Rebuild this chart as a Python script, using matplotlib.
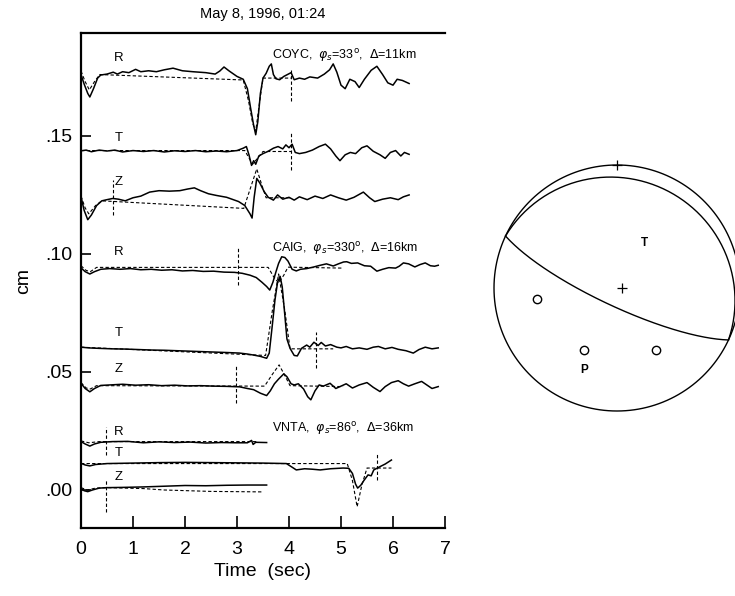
import numpy as np
import matplotlib
matplotlib.use("Agg")
import matplotlib.pyplot as plt

plt.rcParams["font.family"] = ["Liberation Sans", "DejaVu Sans"]
plt.rcParams["mathtext.fontset"] = "dejavusans"

TITLE = "May 8, 1996, 01:24"
X_TICKS = [0, 1, 2, 3, 4, 5, 6, 7]
Y_TICKS = [0.00, 0.05, 0.10, 0.15]
Y_TICK_LABELS = [".00", ".05", ".10", ".15"]

# ---- COYC ----
COYC_R_OBS = [(0.00, 0.1760), (0.06, 0.1720), (0.13, 0.1680), (0.17, 0.1665), (0.24, 0.1700),
              (0.32, 0.1745), (0.38, 0.1758), (0.50, 0.1762), (0.62, 0.1770), (0.70, 0.1762),
              (0.80, 0.1772), (0.92, 0.1768), (1.05, 0.1782), (1.15, 0.1772), (1.30, 0.1776),
              (1.45, 0.1772), (1.60, 0.1780), (1.77, 0.1787), (1.95, 0.1776), (2.15, 0.1772),
              (2.40, 0.1768), (2.58, 0.1762), (2.67, 0.1775), (2.75, 0.1792), (2.85, 0.1775),
              (3.00, 0.1752), (3.12, 0.1740), (3.20, 0.1700), (3.26, 0.1620), (3.32, 0.1545),
              (3.36, 0.1505), (3.40, 0.1560), (3.45, 0.1680), (3.50, 0.1745), (3.56, 0.1765),
              (3.62, 0.1795), (3.66, 0.1805), (3.70, 0.1760), (3.75, 0.1742), (3.82, 0.1738),
              (3.90, 0.1752), (3.97, 0.1760), (4.04, 0.1768), (4.10, 0.1738), (4.20, 0.1745),
              (4.30, 0.1740), (4.40, 0.1750), (4.55, 0.1745), (4.68, 0.1762), (4.78, 0.1780),
              (4.85, 0.1805), (4.92, 0.1770), (5.00, 0.1715), (5.08, 0.1700), (5.17, 0.1740),
              (5.27, 0.1730), (5.35, 0.1705), (5.45, 0.1740), (5.58, 0.1778), (5.69, 0.1795),
              (5.80, 0.1760), (5.90, 0.1725), (6.00, 0.1715), (6.08, 0.1740), (6.18, 0.1735),
              (6.31, 0.1722)]
COYC_R_SYN = [(0.00, 0.1775), (0.08, 0.1730), (0.16, 0.1695), (0.26, 0.1730), (0.36, 0.1760),
              (3.12, 0.1737), (3.22, 0.1650), (3.30, 0.1555), (3.36, 0.1520), (3.42, 0.1620),
              (3.50, 0.1745), (4.05, 0.1745)]

COYC_T_OBS = [(0.00, 0.1437), (0.10, 0.1440), (0.20, 0.1433), (0.35, 0.1440), (0.50, 0.1436),
              (0.65, 0.1440), (0.80, 0.1432), (1.00, 0.1438), (1.20, 0.1434), (1.40, 0.1438),
              (1.60, 0.1432), (1.80, 0.1437), (2.00, 0.1434), (2.20, 0.1438), (2.40, 0.1433),
              (2.60, 0.1436), (2.80, 0.1433), (3.00, 0.1438), (3.12, 0.1448), (3.18, 0.1455),
              (3.23, 0.1420), (3.28, 0.1375), (3.32, 0.1395), (3.36, 0.1380), (3.42, 0.1415),
              (3.50, 0.1425), (3.60, 0.1435), (3.70, 0.1448), (3.79, 0.1455), (3.88, 0.1445),
              (3.94, 0.1462), (4.00, 0.1450), (4.06, 0.1465), (4.12, 0.1430), (4.20, 0.1425),
              (4.32, 0.1430), (4.45, 0.1440), (4.58, 0.1455), (4.70, 0.1465), (4.80, 0.1445),
              (4.90, 0.1415), (4.98, 0.1395), (5.08, 0.1420), (5.18, 0.1430), (5.28, 0.1425),
              (5.40, 0.1450), (5.50, 0.1458), (5.62, 0.1435), (5.75, 0.1420), (5.85, 0.1405),
              (5.95, 0.1430), (6.05, 0.1438), (6.15, 0.1415), (6.22, 0.1430), (6.31, 0.1422)]
COYC_T_SYN = [(0.00, 0.1438), (3.15, 0.1438), (3.30, 0.1380), (3.50, 0.1434), (4.05, 0.1434)]

COYC_Z_OBS = [(0.00, 0.1243), (0.06, 0.1185), (0.13, 0.1145), (0.20, 0.1165), (0.30, 0.1205),
              (0.40, 0.1225), (0.50, 0.1230), (0.61, 0.1235), (0.72, 0.1232), (0.85, 0.1225),
              (1.00, 0.1238), (1.15, 0.1245), (1.32, 0.1262), (1.50, 0.1268), (1.70, 0.1266),
              (1.90, 0.1268), (2.05, 0.1275), (2.18, 0.1280), (2.30, 0.1268), (2.45, 0.1255),
              (2.60, 0.1248), (2.80, 0.1240), (3.03, 0.1222), (3.15, 0.1205), (3.25, 0.1170),
              (3.29, 0.1152), (3.33, 0.1240), (3.38, 0.1320), (3.44, 0.1300), (3.52, 0.1265),
              (3.60, 0.1240), (3.70, 0.1228), (3.78, 0.1250), (3.88, 0.1232), (4.00, 0.1240),
              (4.10, 0.1228), (4.20, 0.1242), (4.35, 0.1230), (4.50, 0.1245), (4.65, 0.1235),
              (4.80, 0.1250), (4.95, 0.1238), (5.10, 0.1228), (5.25, 0.1240), (5.43, 0.1262),
              (5.55, 0.1238), (5.65, 0.1222), (5.80, 0.1232), (5.95, 0.1238), (6.10, 0.1230),
              (6.20, 0.1242), (6.31, 0.1250)]
COYC_Z_SYN = [(0.00, 0.1245), (0.08, 0.1195), (0.15, 0.1170), (0.28, 0.1205), (0.40, 0.1225),
              (3.13, 0.1193), (3.26, 0.1280), (3.38, 0.1360), (3.48, 0.1290), (3.56, 0.1238),
              (4.05, 0.1238)]

# ---- CAIG ----
CAIG_R_OBS = [(0.00, 0.0941), (0.08, 0.0925), (0.17, 0.0915), (0.26, 0.0925), (0.38, 0.0935),
              (0.55, 0.0938), (0.75, 0.0935), (0.95, 0.0938), (1.15, 0.0933), (1.35, 0.0935),
              (1.55, 0.0931), (1.75, 0.0933), (1.95, 0.0928), (2.15, 0.0930), (2.35, 0.0926),
              (2.55, 0.0927), (2.75, 0.0923), (2.95, 0.0922), (3.10, 0.0918), (3.25, 0.0910),
              (3.37, 0.0900), (3.48, 0.0880), (3.57, 0.0862), (3.63, 0.0847), (3.69, 0.0880),
              (3.75, 0.0925), (3.80, 0.0960), (3.86, 0.0988), (3.92, 0.0985), (3.98, 0.0970),
              (4.06, 0.0935), (4.14, 0.0928), (4.22, 0.0935), (4.34, 0.0938), (4.48, 0.0945),
              (4.60, 0.0952), (4.72, 0.0958), (4.85, 0.0949), (4.95, 0.0958), (5.05, 0.0966),
              (5.11, 0.0967), (5.20, 0.0960), (5.32, 0.0962), (5.45, 0.0950), (5.57, 0.0948),
              (5.69, 0.0927), (5.80, 0.0935), (5.92, 0.0942), (6.05, 0.0940), (6.12, 0.0948),
              (6.20, 0.0962), (6.30, 0.0958), (6.42, 0.0945), (6.52, 0.0955), (6.62, 0.0962),
              (6.72, 0.0950), (6.80, 0.0948), (6.87, 0.0952)]
CAIG_R_SYN = [(0.00, 0.0950), (0.10, 0.0930), (0.18, 0.0925), (0.30, 0.0943), (3.60, 0.0943),
              (3.70, 0.0905), (3.80, 0.0877), (3.90, 0.0910), (3.98, 0.0944), (5.04, 0.0940)]

CAIG_T_OBS = [(0.00, 0.0605), (0.15, 0.0602), (0.35, 0.0600), (0.60, 0.0598), (0.85, 0.0597),
              (1.10, 0.0595), (1.35, 0.0593), (1.60, 0.0592), (1.85, 0.0590), (2.10, 0.0588),
              (2.35, 0.0586), (2.60, 0.0584), (2.85, 0.0582), (3.05, 0.0580), (3.20, 0.0576),
              (3.31, 0.0572), (3.45, 0.0566), (3.57, 0.0558), (3.62, 0.0580), (3.68, 0.0700),
              (3.73, 0.0805), (3.78, 0.0880), (3.83, 0.0905), (3.87, 0.0860), (3.92, 0.0740),
              (3.96, 0.0640), (4.02, 0.0600), (4.10, 0.0570), (4.16, 0.0568), (4.24, 0.0600),
              (4.34, 0.0614), (4.40, 0.0605), (4.48, 0.0626), (4.56, 0.0612), (4.62, 0.0625),
              (4.70, 0.0610), (4.80, 0.0616), (4.92, 0.0605), (5.00, 0.0602), (5.10, 0.0608),
              (5.22, 0.0598), (5.35, 0.0602), (5.50, 0.0596), (5.62, 0.0605), (5.72, 0.0608),
              (5.85, 0.0598), (5.98, 0.0604), (6.10, 0.0596), (6.25, 0.0590), (6.39, 0.0580),
              (6.50, 0.0595), (6.62, 0.0605), (6.75, 0.0598), (6.87, 0.0602)]
CAIG_T_SYN = [(0.00, 0.0605), (3.55, 0.0570), (3.68, 0.0760), (3.80, 0.0915), (3.92, 0.0760),
              (4.02, 0.0598), (4.85, 0.0598)]

CAIG_Z_OBS = [(0.00, 0.0452), (0.08, 0.0430), (0.17, 0.0416), (0.26, 0.0430), (0.38, 0.0443),
              (0.55, 0.0445), (0.80, 0.0448), (1.05, 0.0444), (1.30, 0.0446), (1.55, 0.0442),
              (1.80, 0.0444), (2.05, 0.0441), (2.30, 0.0442), (2.55, 0.0440), (2.80, 0.0439),
              (3.05, 0.0437), (3.20, 0.0430), (3.32, 0.0425), (3.45, 0.0410), (3.57, 0.0400),
              (3.64, 0.0420), (3.72, 0.0450), (3.80, 0.0470), (3.90, 0.0492), (3.96, 0.0480),
              (4.04, 0.0450), (4.10, 0.0445), (4.18, 0.0450), (4.28, 0.0428), (4.36, 0.0395),
              (4.42, 0.0382), (4.50, 0.0420), (4.58, 0.0445), (4.66, 0.0440), (4.79, 0.0452),
              (4.90, 0.0430), (5.00, 0.0440), (5.10, 0.0450), (5.22, 0.0432), (5.35, 0.0445),
              (5.50, 0.0455), (5.62, 0.0435), (5.75, 0.0417), (5.85, 0.0438), (5.97, 0.0455),
              (6.10, 0.0463), (6.20, 0.0450), (6.30, 0.0440), (6.42, 0.0450), (6.55, 0.0460),
              (6.65, 0.0445), (6.75, 0.0430), (6.87, 0.0438)]
CAIG_Z_SYN = [(0.00, 0.0455), (0.10, 0.0432), (0.18, 0.0428), (0.30, 0.0442), (3.53, 0.0440),
              (3.68, 0.0490), (3.81, 0.0530), (3.92, 0.0485), (4.02, 0.0442), (5.04, 0.0438)]

# ---- VNTA ----
VNTA_R_OBS = [(0.00, 0.0205), (0.08, 0.0195), (0.17, 0.0186), (0.26, 0.0195), (0.38, 0.0202),
              (0.60, 0.0205), (0.90, 0.0206), (1.20, 0.0200), (1.50, 0.0204), (1.80, 0.0201),
              (2.10, 0.0203), (2.40, 0.0199), (2.70, 0.0201), (3.00, 0.0200), (3.20, 0.0200),
              (3.28, 0.0210), (3.31, 0.0193), (3.36, 0.0202), (3.57, 0.0201)]
VNTA_R_SYN = [(0.00, 0.0208), (0.15, 0.0200), (0.35, 0.0205), (3.40, 0.0205)]

VNTA_T_OBS = [(0.00, 0.0113), (0.08, 0.0106), (0.17, 0.0102), (0.28, 0.0108), (0.50, 0.0112),
              (1.00, 0.0114), (1.50, 0.0116), (2.00, 0.0117), (2.50, 0.0116), (3.00, 0.0115),
              (3.50, 0.0114), (3.95, 0.0112), (4.05, 0.0098), (4.14, 0.0085), (4.30, 0.0090),
              (4.45, 0.0088), (4.60, 0.0085), (4.80, 0.0090), (5.04, 0.0093), (5.15, 0.0092),
              (5.22, 0.0070), (5.28, 0.0025), (5.32, 0.0008), (5.38, 0.0020), (5.44, 0.0040),
              (5.52, 0.0064), (5.58, 0.0060), (5.63, 0.0085), (5.75, 0.0099), (5.85, 0.0110),
              (5.97, 0.0127)]
VNTA_T_SYN = [(0.00, 0.0112), (5.12, 0.0112), (5.22, 0.0040), (5.31, -0.0071), (5.40, 0.0020),
              (5.50, 0.0093), (5.97, 0.0093)]

VNTA_Z_OBS = [(0.00, 0.0007), (0.06, -0.0003), (0.13, -0.0007), (0.22, 0.0000), (0.35, 0.0008),
              (0.50, 0.0010), (0.80, 0.0011), (1.20, 0.0013), (1.60, 0.0016), (2.00, 0.0019),
              (2.40, 0.0018), (2.80, 0.0020), (3.20, 0.0021), (3.57, 0.0021)]
VNTA_Z_SYN = [(0.00, 0.0010), (0.12, 0.0000), (0.28, 0.0008), (0.50, 0.0010), (1.20, 0.0006),
              (1.60, 0.0000), (2.50, -0.0006), (3.47, -0.0008)]

TRACES = [
    (COYC_R_OBS, COYC_R_SYN), (COYC_T_OBS, COYC_T_SYN), (COYC_Z_OBS, COYC_Z_SYN),
    (CAIG_R_OBS, CAIG_R_SYN), (CAIG_T_OBS, CAIG_T_SYN), (CAIG_Z_OBS, CAIG_Z_SYN),
    (VNTA_R_OBS, VNTA_R_SYN), (VNTA_T_OBS, VNTA_T_SYN), (VNTA_Z_OBS, VNTA_Z_SYN),
]

# window markers: time, lower, upper
MARKERS = [(4.04, 0.1650, 0.1780), (4.04, 0.1356, 0.1513), (0.61, 0.1165, 0.1314),
           (3.02, 0.0869, 0.1025), (4.52, 0.0517, 0.0670), (2.99, 0.0370, 0.0530),
           (0.49, 0.0148, 0.0268), (5.70, 0.0042, 0.0157), (0.49, -0.0092, 0.0042)]

COMPONENTS = ["R", "T", "Z"] * 3
COMPONENT_LEVELS = [0.1830, 0.1490, 0.1306, 0.1010, 0.0667, 0.0512, 0.0247, 0.0157, 0.0057]

STATIONS = ["COYC", "CAIG", "VNTA"]
AZIMUTHS = [33, 330, 86]
DISTANCES = [11, 16, 36]
STATION_LEVELS = [0.1840, 0.1025, 0.0261]

# focal mechanism: nodal planes (strike, dip), polarity picks and axes (trend, plunge)
NODAL_PLANES = [(295, 12), (115, 78)]
POLARITY_PICKS = [(262, 35), (148, 40), (208, 42)]
T_AXIS = (31, 55)
P_AXIS = (208, 42)


def unpack(points):
    arr = np.array(points)
    return arr[:, 0], arr[:, 1]


def project(trend, plunge):
    # lower hemisphere, equal area
    r = np.sqrt(2) * np.sin(np.radians(90 - np.asarray(plunge)) / 2)
    tr = np.radians(trend)
    return r * np.sin(tr), r * np.cos(tr)


def plane_curve(strike, dip, n=181):
    s, d = np.radians(strike), np.radians(dip)
    a = np.linspace(0, np.pi, n)
    north = np.cos(a) * np.cos(s) - np.sin(a) * np.sin(s) * np.cos(d)
    east = np.cos(a) * np.sin(s) + np.sin(a) * np.cos(s) * np.cos(d)
    down = np.sin(a) * np.sin(d)
    plunge = np.degrees(np.arcsin(np.clip(down, -1, 1)))
    trend = np.degrees(np.arctan2(east, north))
    return project(trend, plunge)


fig = plt.figure(figsize=(7.35, 5.96), dpi=100)
ax = fig.add_axes([81 / 735, 68 / 596, 364 / 735, 495 / 596])

for obs, syn in TRACES:
    t, v = unpack(obs)
    ax.plot(t, v, color="black", lw=1.1)
    t, v = unpack(syn)
    ax.plot(t, v, color="black", lw=0.8, dashes=(3, 2))

for t0, lo, hi in MARKERS:
    ax.plot([t0, t0], [lo, hi], color="black", lw=0.8, dashes=(3, 2))

for comp, lev in zip(COMPONENTS, COMPONENT_LEVELS):
    ax.text(0.72, lev, comp, fontsize=9.5, ha="center", va="center")

for name, az, dist, lev in zip(STATIONS, AZIMUTHS, DISTANCES, STATION_LEVELS):
    ax.text(3.68, lev, rf"{name},  $\varphi_s$={az}$^\mathrm{{o}}$,  $\Delta$={dist}km",
            fontsize=9, ha="left", va="center")

ax.set_xlim(0, 7)
ax.set_ylim(-0.0161, 0.1936)
ax.set_xticks(X_TICKS)
ax.set_yticks(Y_TICKS)
ax.set_yticklabels(Y_TICK_LABELS)
ax.tick_params(axis="both", direction="in", length=9, width=1.2, labelsize=14)
ax.tick_params(axis="x", pad=9)
ax.tick_params(axis="y", length=7, pad=6)
ax.spines["right"].set_visible(False)
for side in ("left", "top", "bottom"):
    ax.spines[side].set_linewidth(1.6)
ax.set_xlabel("Time  (sec)", fontsize=14, labelpad=4)
ax.set_ylabel("cm", fontsize=14, labelpad=10)
ax.set_title(TITLE, fontsize=10.5, pad=11)

# focal sphere
cx, cy, rad = 617, 288, 123
bb = fig.add_axes([(cx - rad) / 735, (596 - cy - rad) / 596, 2 * rad / 735, 2 * rad / 596])
bb.set_xlim(-1, 1)
bb.set_ylim(-1, 1)
bb.axis("off")
th = np.linspace(0, 2 * np.pi, 361)
bb.plot(np.cos(th), np.sin(th), color="black", lw=1.0, clip_on=False)
for strike, dip in NODAL_PLANES:
    x, y = plane_curve(strike, dip)
    bb.plot(x, y, color="black", lw=1.0, clip_on=False)
bb.plot([0], [1], marker="+", color="black", ms=7, mew=0.9, clip_on=False)
bb.plot([0.04], [0.0], marker="+", color="black", ms=7, mew=0.9)
for trend, plunge in POLARITY_PICKS:
    x, y = project(trend, plunge)
    bb.plot([x], [y], marker="o", mfc="white", mec="black", ms=6, mew=1.0)
tx, ty = project(*T_AXIS)
bb.text(tx, ty, "T", fontsize=8.5, fontweight="bold", ha="center", va="center")
px, py = project(*P_AXIS)
bb.annotate("P", (px, py), xytext=(0, -14), textcoords="offset points",
            fontsize=8.5, fontweight="bold", ha="center", va="center")

fig.savefig("out.png", dpi=100)
